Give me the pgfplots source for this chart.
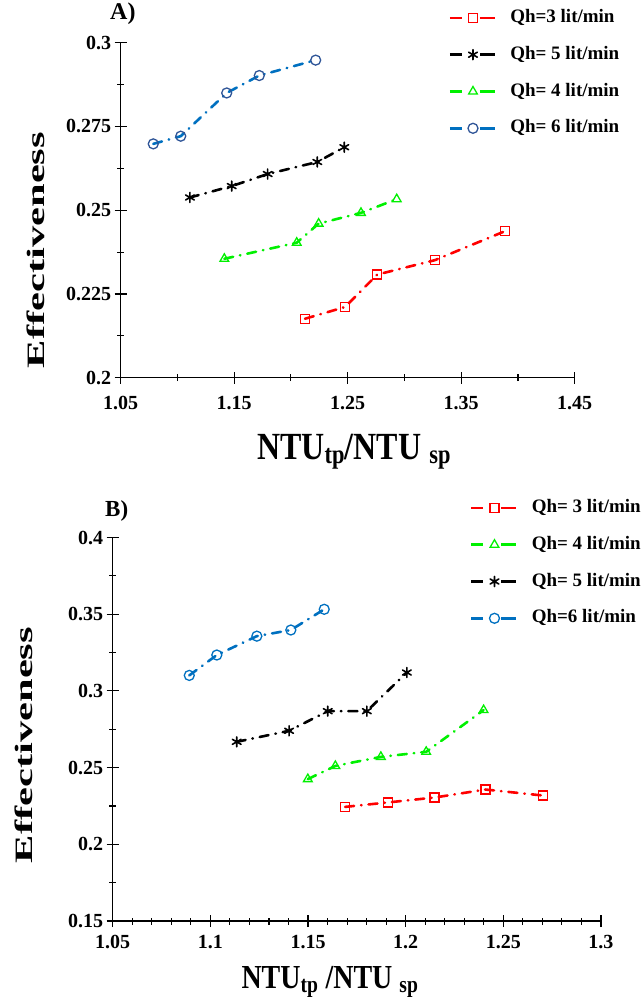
\documentclass[border=0pt]{standalone}
\usepackage{fontspec}
\setmainfont{Liberation Serif}
\usepackage{graphicx}
\usepackage{pgfplots}
\pgfplotsset{compat=1.18}

\definecolor{cred}{RGB}{255,0,0}
\definecolor{cgreen}{RGB}{0,240,0}
\definecolor{cblue}{RGB}{0,112,192}
\definecolor{cdblue}{RGB}{47,85,151}

\pgfplotsset{
  chart/.style={
    scale only axis, axis lines=left, axis line style={-, line width=1.3pt},
    tick align=center, major tick length=12pt, minor tick length=7pt,
    every tick/.style={black, line width=1.1pt},
    tick label style={font=\fontsize{20}{20}\selectfont\bfseries},
    /pgf/number format/.cd, fixed, precision=3, assume math mode=true, /pgfplots/.cd,
    scaled ticks=false, clip=false,
    legend cell align=left,
    legend image code/.code={
      \draw[##1, solid, line cap=butt] (0pt,0pt)--(12pt,0pt);
      \draw[##1, solid, line cap=butt] (30pt,0pt)--(45pt,0pt);
      \draw[##1, only marks] plot coordinates {(23pt,0pt)};},
    legend style={draw=none, fill=none, anchor=north west,
      font=\fontsize{19}{19}\selectfont\bfseries, inner sep=0pt,
      row sep=19.8pt, column sep=14pt,
      nodes={inner sep=0pt, text height=13pt, text depth=4pt}},
    xlabel style={inner sep=0pt, anchor=base},
    ylabel style={inner sep=0pt, anchor=south},
  },
  ser/.style={line width=2.6pt, line cap=round,
    dash pattern=on 9pt off 7pt on 0.5pt off 7pt},
}

\begin{document}
\begin{tikzpicture}
\useasboundingbox (0pt,0pt) rectangle (643pt,-1005pt);

% ---------- A ----------
\begin{axis}[chart,
  at={(120.7pt,-377.7pt)}, anchor=south west,
  width=454pt, height=335pt,
  xmin=1.05, xmax=1.45, ymin=0.2, ymax=0.3,
  xtick={1.05,1.15,1.25,1.35,1.45},
  ytick={0.2,0.225,0.25,0.275,0.3},
  minor x tick num=1, minor y tick num=1,
  xticklabel style={yshift=-9pt},
  xlabel={\scalebox{1}[1.2]{NTU\textsubscript{tp}/NTU \textsubscript{sp}}},
  xlabel style={font=\fontsize{32}{32}\selectfont\bfseries, at={(axis description cs:0.514,-0.243)}},
  ylabel={\scalebox{1.7}[1]{Effectiveness}},
  ylabel style={font=\fontsize{25}{25}\selectfont\bfseries, at={(axis description cs:-0.166,0.381)}},
  legend style={at={(axis description cs:0.722,1.1)}},
]
\addplot[ser, cred, mark=square, mark size=4.5pt, mark options={solid, line width=1.3pt}] coordinates {
(1.2124,0.2176) (1.2476,0.2211) (1.2761,0.2308) (1.3269,0.2351) (1.3883,0.2437)};
\addlegendentry{Qh=3 lit/min}
\addplot[ser, black, mark=asterisk, mark size=5pt, mark options={solid, line width=1.6pt}] coordinates {
(1.1110,0.2538) (1.1478,0.2572) (1.1795,0.2608) (1.2232,0.2644) (1.2470,0.2688)};
\addlegendentry{Qh= 5 lit/min}
\addplot[ser, cgreen, mark=triangle, mark size=5pt, mark options={solid, line width=1.3pt}] coordinates {
(1.1413,0.2355) (1.2051,0.2403) (1.2244,0.2460) (1.2617,0.2492) (1.2932,0.2533)};
\addlegendentry{Qh= 4 lit/min}
\addplot[ser, cblue, mark=o, mark size=5pt, mark options={solid, line width=1.3pt, draw=cdblue}] coordinates {
(1.0787,0.2698) (1.1029,0.2721) (1.1434,0.2850) (1.1721,0.2902) (1.2218,0.2948)};
\addlegendentry{Qh= 6 lit/min}
\node[anchor=base west, inner sep=0pt, font=\fontsize{24}{24}\selectfont\bfseries] at (axis description cs:-0.0235,1.0707) {A)};
\end{axis}

% ---------- B ----------
\begin{axis}[chart,
  at={(112.7pt,-921pt)}, anchor=south west,
  width=488.3pt, height=383.5pt,
  xmin=1.05, xmax=1.3, ymin=0.15, ymax=0.4,
  xtick={1.05,1.1,1.15,1.2,1.25,1.3},
  ytick={0.15,0.2,0.25,0.3,0.35,0.4},
  minor x tick num=4, minor y tick num=1,
  xticklabel style={yshift=-5pt},
  xlabel={\scalebox{1}[1.2]{NTU\textsubscript{tp} /NTU \textsubscript{sp}}},
  xlabel style={font=\fontsize{28}{28}\selectfont\bfseries, at={(axis description cs:0.445,-0.175)}},
  ylabel={\scalebox{1.7}[1]{Effectiveness}},
  ylabel style={font=\fontsize{25}{25}\selectfont\bfseries, at={(axis description cs:-0.163,0.459)}},
  legend style={at={(axis description cs:0.7317,1.0999)}},
]
\addplot[ser, cred, mark=square, mark size=4.5pt, mark options={solid, line width=1.3pt}] coordinates {
(1.1690,0.2244) (1.1909,0.2273) (1.2148,0.2305) (1.2409,0.2357) (1.2704,0.2318)};
\addlegendentry{Qh= 3 lit/min}
\addplot[ser, cgreen, mark=triangle, mark size=5pt, mark options={solid, line width=1.3pt}] coordinates {
(1.1499,0.2425) (1.1640,0.2511) (1.1873,0.2570) (1.2105,0.2603) (1.2399,0.2875)};
\addlegendentry{Qh= 4 lit/min}
\addplot[ser, black, mark=asterisk, mark size=5pt, mark options={solid, line width=1.6pt}] coordinates {
(1.1135,0.2668) (1.1403,0.2740) (1.1601,0.2868) (1.1801,0.2868) (1.2006,0.3120)};
\addlegendentry{Qh= 5 lit/min}
\addplot[ser, cblue, mark=o, mark size=5pt, mark options={solid, line width=1.3pt}] coordinates {
(1.0892,0.3101) (1.1033,0.3234) (1.1238,0.3357) (1.1412,0.3397) (1.1583,0.3532)};
\addlegendentry{Qh=6 lit/min}
\node[anchor=base west, inner sep=0pt, font=\fontsize{23}{23}\selectfont\bfseries] at (axis description cs:-0.0158,1.056) {B)};
\end{axis}
\end{tikzpicture}
\end{document}
